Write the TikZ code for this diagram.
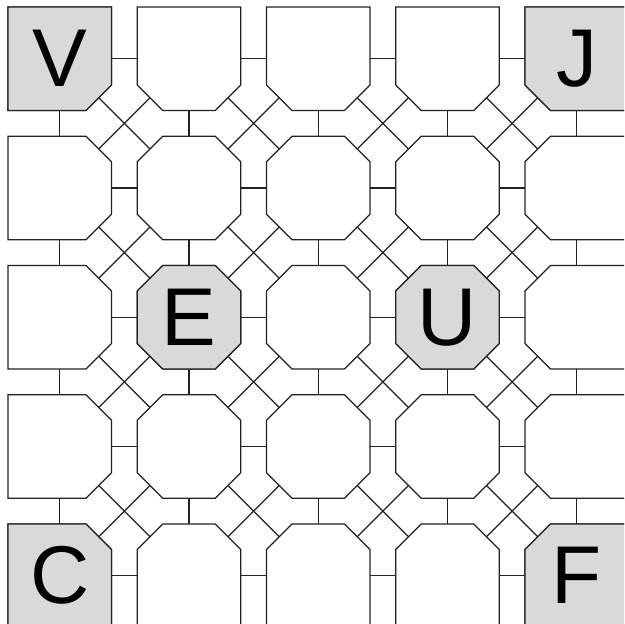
\documentclass[tikz,border=0pt]{standalone}
\usepackage{fontspec}
\setmainfont{Liberation Sans}
\usetikzlibrary{calc}
\definecolor{cellgrey}{HTML}{D9D9D9}
\definecolor{linegrey}{HTML}{222222}
\tikzset{
  cellbox/.style={draw=none,inner sep=0pt,outer sep=0pt,minimum size=103.5pt},
  cellline/.style={draw=linegrey,line width=1.1pt,line join=miter},
  conn/.style={draw=linegrey,line width=1.1pt},
  letter/.style={inner sep=0pt,font=\fontsize{82}{82}\selectfont,text=black}
}
\newcommand\ch{25.5}
\newcommand\hc{12.75}
\newcommand\drawoct[3]{%
  \pgfmathsetmacro\ctl{\ch*(#1>0)*(#2>0)}%
  \pgfmathsetmacro\ctr{\ch*(#1>0)*(#2<4)}%
  \pgfmathsetmacro\cbl{\ch*(#1<4)*(#2>0)}%
  \pgfmathsetmacro\cbr{\ch*(#1<4)*(#2<4)}%
  \draw[cellline,fill=#3]
    ($(n#1#2.north west)+(0,-\ctl)$) -- ($(n#1#2.north west)+(\ctl,0)$) --
    ($(n#1#2.north east)+(-\ctr,0)$) -- ($(n#1#2.north east)+(0,-\ctr)$) --
    ($(n#1#2.south east)+(0,\cbr)$) -- ($(n#1#2.south east)+(-\cbr,0)$) --
    ($(n#1#2.south west)+(\cbl,0)$) -- ($(n#1#2.south west)+(0,\cbl)$) -- cycle;
}
\begin{document}
\begin{tikzpicture}[x=1pt,y=1pt]
\useasboundingbox (0,0) rectangle (624,624);
\clip (0,0) rectangle (624,624);
\fill[white] (0,0) rectangle (624,624);
% cell frames (named nodes)
\foreach \r in {0,...,4}
  \foreach \c in {0,...,4}
    \node[cellbox] (n\r\c) at ({59.75+129.25*\c},{565.25-129.25*\r}) {};
% horizontal connectors
\foreach \r in {0,...,4}
  \foreach \c in {0,...,3} {
    \pgfmathtruncatemacro\cnext{\c+1}
    \draw[conn] (n\r\c.east) -- (n\r\cnext.west);
  }
% vertical connectors
\foreach \r in {0,...,3}
  \foreach \c in {0,...,4} {
    \pgfmathtruncatemacro\rnext{\r+1}
    \draw[conn] (n\r\c.south) -- (n\rnext\c.north);
  }
% diagonal crossings
\foreach \r in {0,...,3}
  \foreach \c in {0,...,3} {
    \pgfmathtruncatemacro\rnext{\r+1}
    \pgfmathtruncatemacro\cnext{\c+1}
    \draw[conn] ($(n\r\c.south east)+(-\hc,\hc)$) -- ($(n\rnext\cnext.north west)+(\hc,-\hc)$);
    \draw[conn] ($(n\r\cnext.south west)+(\hc,\hc)$) -- ($(n\rnext\c.north east)+(-\hc,-\hc)$);
  }
% cells
\foreach \r in {0,...,4}
  \foreach \c in {0,...,4}
    {\drawoct{\r}{\c}{white}}
\foreach \r/\c in {0/0,0/4,2/1,2/3,4/0,4/4}
    {\drawoct{\r}{\c}{cellgrey}}
% letters
\node[letter] (tV) at (n00) {V};
\node[letter] (tJ) at (n04) {J};
\node[letter] (tE) at (n21) {E};
\node[letter] (tU) at (n23) {U};
\node[letter] (tC) at (n40) {C};
\node[letter] (tF) at (n44) {F};
\end{tikzpicture}
\end{document}
